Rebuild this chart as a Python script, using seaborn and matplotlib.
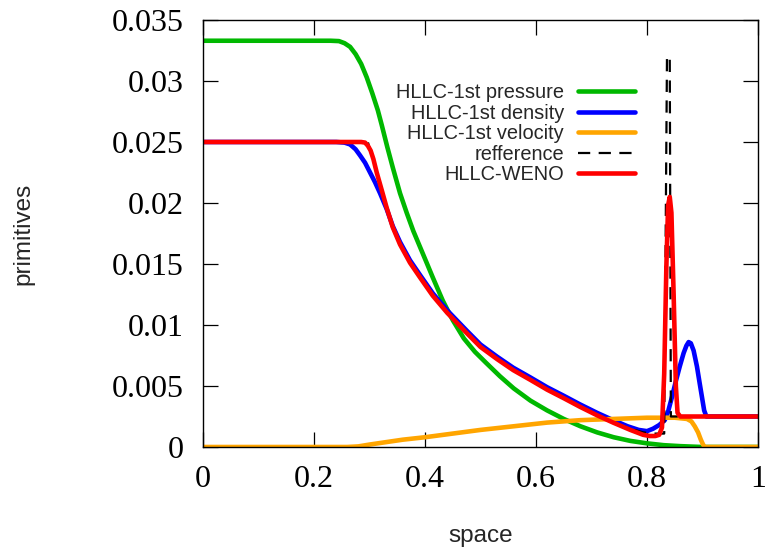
import numpy as np
import pandas as pd
import matplotlib
matplotlib.use("Agg")
import matplotlib.pyplot as plt
import seaborn as sns

# ---- data -------------------------------------------------------------
x_pressure = [0.0, 0.23, 0.245, 0.255, 0.265, 0.275, 0.285, 0.295, 0.305, 0.315,
              0.322, 0.332, 0.342, 0.355, 0.367, 0.379, 0.391, 0.403, 0.414, 0.432,
              0.45, 0.47, 0.49, 0.51, 0.535, 0.56, 0.59, 0.62, 0.65, 0.68, 0.71,
              0.74, 0.77, 0.80, 0.83, 0.86, 0.90, 1.0]
pressure = [0.0333, 0.0333, 0.03327, 0.0331, 0.0328, 0.0322, 0.0314, 0.0303, 0.0290,
            0.0276, 0.0264, 0.0246, 0.0229, 0.0208, 0.0192, 0.0177, 0.0164, 0.0151,
            0.0139, 0.0120, 0.0104, 0.0089, 0.0078, 0.0069, 0.0058, 0.0048, 0.0038,
            0.0030, 0.0023, 0.0017, 0.0012, 0.0008, 0.0005, 0.0003, 0.00015, 0.00007,
            0.0, 0.0]

x_density = [0.0, 0.24, 0.255, 0.265, 0.275, 0.283, 0.292, 0.301, 0.31, 0.319, 0.331,
             0.342, 0.355, 0.373, 0.391, 0.414, 0.44, 0.476, 0.50, 0.53, 0.559, 0.59,
             0.62, 0.65, 0.679, 0.71, 0.739, 0.765, 0.785, 0.80, 0.811, 0.822, 0.832,
             0.838, 0.845, 0.852, 0.859, 0.866, 0.871, 0.875, 0.879, 0.884, 0.89,
             0.895, 0.899, 0.903, 0.907, 1.0]
density = [0.025, 0.025, 0.02495, 0.0248, 0.0244, 0.0239, 0.0233, 0.0225, 0.0217,
           0.0208, 0.0195, 0.0181, 0.0168, 0.0153, 0.0141, 0.0126, 0.0112, 0.0095,
           0.0084, 0.0074, 0.0065, 0.0057, 0.0049, 0.0042, 0.0035, 0.0028, 0.0022,
           0.0017, 0.0014, 0.0013, 0.0015, 0.0018, 0.0022, 0.0029, 0.0041, 0.0054,
           0.0066, 0.0077, 0.0083, 0.0086, 0.0085, 0.0079, 0.0066, 0.0052, 0.0041,
           0.0030, 0.0025, 0.0025]

x_velocity = [0.0, 0.26, 0.28, 0.30, 0.33, 0.36, 0.40, 0.45, 0.50, 0.56, 0.62, 0.68,
              0.74, 0.80, 0.85, 0.872, 0.88, 0.886, 0.892, 0.897, 0.901, 0.904, 1.0]
velocity = [0.0, 0.0, 0.00005, 0.0002, 0.0004, 0.0006, 0.0008, 0.0011, 0.0014,
            0.0017, 0.0020, 0.0022, 0.0023, 0.0024, 0.0024, 0.0023, 0.0021, 0.0017,
            0.0012, 0.0006, 0.0002, 0.0, 0.0]

x_reference = [0.0, 0.297, 0.302, 0.313, 0.323, 0.331, 0.342, 0.355, 0.373, 0.391,
               0.414, 0.44, 0.476, 0.50, 0.53, 0.559, 0.59, 0.62, 0.65, 0.679, 0.71,
               0.739, 0.77, 0.793, 0.81, 0.831, 0.836, 0.841, 0.843, 1.0]
reference = [0.025, 0.025, 0.0242, 0.0226, 0.0210, 0.0197, 0.0180, 0.0166, 0.0151,
             0.0139, 0.0124, 0.0110, 0.0093, 0.0082, 0.0072, 0.0063, 0.0055, 0.0047,
             0.0040, 0.0033, 0.0026, 0.0020, 0.0015, 0.0012, 0.0011, 0.0011, 0.032,
             0.032, 0.0025, 0.0025]

x_weno = [0.0, 0.285, 0.292, 0.297, 0.302, 0.307, 0.313, 0.323, 0.331, 0.342, 0.355,
          0.373, 0.391, 0.414, 0.44, 0.476, 0.50, 0.53, 0.559, 0.59, 0.62, 0.65,
          0.679, 0.71, 0.739, 0.77, 0.793, 0.805, 0.815, 0.822, 0.827, 0.831, 0.835,
          0.838, 0.841, 0.844, 0.848, 0.852, 0.855, 0.86, 1.0]
weno = [0.025, 0.025, 0.02495, 0.0247, 0.0243, 0.0236, 0.0225, 0.0209, 0.0196,
        0.0180, 0.0166, 0.0151, 0.0139, 0.0124, 0.0110, 0.0093, 0.0082, 0.0072,
        0.0063, 0.0055, 0.0047, 0.0040, 0.0033, 0.0026, 0.0020, 0.0014, 0.0010,
        0.0009, 0.0009, 0.0010, 0.0016, 0.0060, 0.0150, 0.0198, 0.0205, 0.0192,
        0.0125, 0.0050, 0.0028, 0.0025, 0.0025]

x_ticks = [0, 0.2, 0.4, 0.6, 0.8, 1]
x_tick_labels = ["0", "0.2", "0.4", "0.6", "0.8", "1"]
y_ticks = [0, 0.005, 0.01, 0.015, 0.02, 0.025, 0.03, 0.035]
y_tick_labels = ["0", "0.005", "0.01", "0.015", "0.02", "0.025", "0.03", "0.035"]

# ---- style ------------------------------------------------------------
sns.set_style("ticks")
plt.rcParams["font.family"] = ["Liberation Sans", "DejaVu Sans"]

W, H = 771, 554
fig = plt.figure(figsize=(W / 100, H / 100), dpi=100)
left, right, top, bottom = 203, 758, 20, 447
ax = fig.add_axes([left / W, 1 - bottom / H, (right - left) / W, (bottom - top) / H])

series = [
    (x_pressure, pressure, "HLLC-1st pressure", "#00b800", "-"),
    (x_density, density, "HLLC-1st density", "#0000ff", "-"),
    (x_velocity, velocity, "HLLC-1st velocity", "#ffa500", "-"),
    (x_reference, reference, "refference", "black", "--"),
    (x_weno, weno, "HLLC-WENO", "#ff0000", "-"),
]

for xs, ys, name, color, style in series:
    df = pd.DataFrame({"space": xs, "value": ys})
    if style == "--":
        sns.lineplot(data=df, x="space", y="value", ax=ax, color=color, lw=1.6,
                     estimator=None, sort=False, label=name)
        ax.lines[-1].set_dashes((5.5, 3.8))
    else:
        sns.lineplot(data=df, x="space", y="value", ax=ax, color=color, lw=3.3,
                     estimator=None, sort=False, label=name)
    ax.lines[-1].set_solid_joinstyle("round")

ax.set_xlim(0, 1)
ax.set_ylim(0, 0.035)
ax.set_xticks(x_ticks)
ax.set_xticklabels(x_tick_labels)
ax.set_yticks(y_ticks)
ax.set_yticklabels(y_tick_labels)

for sp in ax.spines.values():
    sp.set_visible(True)
    sp.set_linewidth(1.0)
    sp.set_color("black")

ax.tick_params(axis="both", which="major", direction="in", length=10.5, width=0.9,
               top=True, right=True, colors="black")
ax.tick_params(axis="x", pad=13)
ax.tick_params(axis="y", pad=14)
for lab in ax.get_xticklabels() + ax.get_yticklabels():
    lab.set_fontfamily(["Liberation Serif", "DejaVu Serif"])
    lab.set_fontsize(23)

ax.set_xlabel("space", fontsize=17.5)
ax.set_ylabel("primitives", fontsize=17.5)
ax.xaxis.set_label_coords(0.5, (bottom - 542) / (bottom - top))
ax.xaxis.label.set_verticalalignment("baseline")
ax.yaxis.set_label_coords((23.5 - left) / (right - left), 0.5)
ax.yaxis.label.set_verticalalignment("center")

leg = ax.legend(loc="upper right", bbox_to_anchor=(635 / W, 1 - 83 / H),
                bbox_transform=fig.transFigure, frameon=False, markerfirst=False,
                fontsize=14.4, borderpad=0, borderaxespad=0, handlelength=2.85,
                handletextpad=0.7, labelspacing=0.08)
for t in leg.get_texts():
    t.set_ha("right")

fig.savefig("out.png", dpi=100)
